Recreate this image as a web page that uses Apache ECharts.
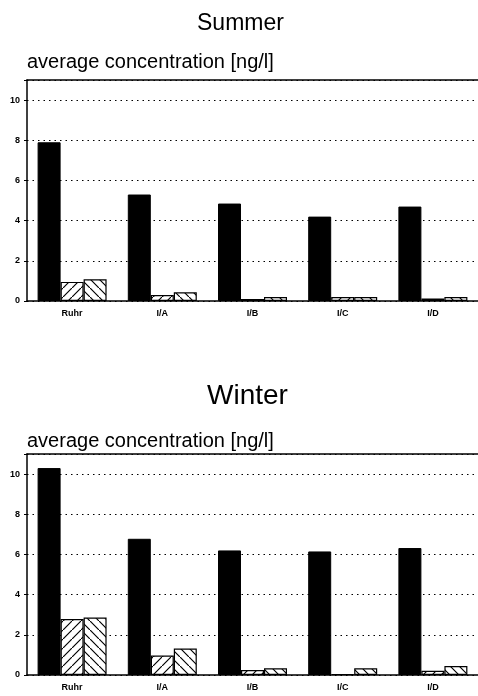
<!DOCTYPE html>
<html><head><meta charset="utf-8">
<script src="https://cdn.jsdelivr.net/npm/echarts@6/dist/echarts.min.js"></script>
<style>html,body{margin:0;padding:0;background:#fff}#c{width:478px;height:696px}</style>
</head><body><div id="c"></div>
<script>
const categories = ['Ruhr', 'I/A', 'I/B', 'I/C', 'I/D'];
const yTicks = [0, 2, 4, 6, 8, 10];
const summerSolid = [7.9, 5.3, 4.85, 4.2, 4.7];
const summerHatchA = [0.95, 0.3, 0.1, 0.2, 0.12];
const summerHatchB = [1.08, 0.43, 0.2, 0.2, 0.2];
const winterSolid = [10.3, 6.78, 6.2, 6.15, 6.32];
const winterHatchA = [2.79, 0.97, 0.25, 0.05, 0.21];
const winterHatchB = [2.86, 1.32, 0.33, 0.33, 0.45];

function hatch(dir) {
  const s = 9;
  const c = document.createElement('canvas');
  c.width = s; c.height = s;
  const g = c.getContext('2d');
  g.fillStyle = '#fff'; g.fillRect(0, 0, s, s);
  g.strokeStyle = '#000'; g.lineWidth = 1.2;
  g.beginPath();
  if (dir === '/') {
    g.moveTo(-1, s + 1); g.lineTo(s + 1, -1);
    g.moveTo(-2, 1); g.lineTo(1, -2);
    g.moveTo(s - 1, s + 2); g.lineTo(s + 2, s - 1);
  } else {
    g.moveTo(-1, -1); g.lineTo(s + 1, s + 1);
    g.moveTo(s - 1, -2); g.lineTo(s + 2, 1);
    g.moveTo(-2, s - 1); g.lineTo(1, s + 2);
  }
  g.stroke();
  return { image: c, repeat: 'repeat' };
}

const font = 'Liberation Sans, Arial, sans-serif';
const grids = [{ top: 80, height: 221 }, { top: 454, height: 221 }];
const datasets = [[summerSolid, summerHatchA, summerHatchB], [winterSolid, winterHatchA, winterHatchB]];

const option = {
  animation: false,
  backgroundColor: '#fff',
  title: [
    { text: 'Summer', left: 192, top: 7, textStyle: { fontFamily: font, fontSize: 23, fontWeight: 'normal', color: '#000' } },
    { text: 'average concentration [ng/l]', left: 22, top: 47, textStyle: { fontFamily: font, fontSize: 20, fontWeight: 'normal', color: '#000' } },
    { text: 'Winter', left: 202, top: 377, textStyle: { fontFamily: font, fontSize: 28, fontWeight: 'normal', color: '#000' } },
    { text: 'average concentration [ng/l]', left: 22, top: 426, textStyle: { fontFamily: font, fontSize: 20, fontWeight: 'normal', color: '#000' } }
  ],
  grid: grids.map(g => ({ left: 27, right: 0, top: g.top, height: g.height })),
  xAxis: [],
  yAxis: [],
  series: []
};

[0, 1].forEach(i => {
  option.xAxis.push({
    type: 'category', gridIndex: i, data: categories,
    axisLine: { lineStyle: { color: '#000', width: 1.5 } },
    axisTick: { show: false },
    axisLabel: { color: '#000', fontFamily: font, fontSize: 9, fontWeight: 'bold', margin: 8 }
  });
  option.xAxis.push({
    type: 'category', gridIndex: i, position: 'top', data: categories,
    axisLine: { show: true, lineStyle: { color: '#000', width: 1.5 } },
    axisTick: { show: false }, axisLabel: { show: false }
  });
  option.yAxis.push({
    type: 'value', gridIndex: i, min: 0, max: 11, interval: 2,
    axisLine: { show: true, lineStyle: { color: '#000', width: 1.5 } },
    axisTick: { show: true, length: 3, lineStyle: { color: '#000' } },
    axisLabel: { color: '#000', fontFamily: font, fontSize: 9, fontWeight: 'bold', margin: 7,
      formatter: v => (yTicks.indexOf(v) >= 0 ? String(v) : '') },
    splitLine: { show: true, lineStyle: { color: '#000', type: [1.5, 4], width: 1 } }
  });
  const d = datasets[i];
  const styles = [
    { color: '#000', borderColor: '#000', borderWidth: 1 },
    { color: hatch('/'), borderColor: '#000', borderWidth: 1.2 },
    { color: hatch('\\'), borderColor: '#000', borderWidth: 1.2 }
  ];
  d.forEach((vals, k) => {
    option.series.push({
      type: 'bar', xAxisIndex: i * 2, yAxisIndex: i, data: vals,
      barWidth: 23, barGap: '0%', itemStyle: styles[k]
    });
  });
});

const chart = echarts.init(document.getElementById('c'), null, { renderer: 'canvas' });
chart.setOption(option);
</script>
</body></html>
